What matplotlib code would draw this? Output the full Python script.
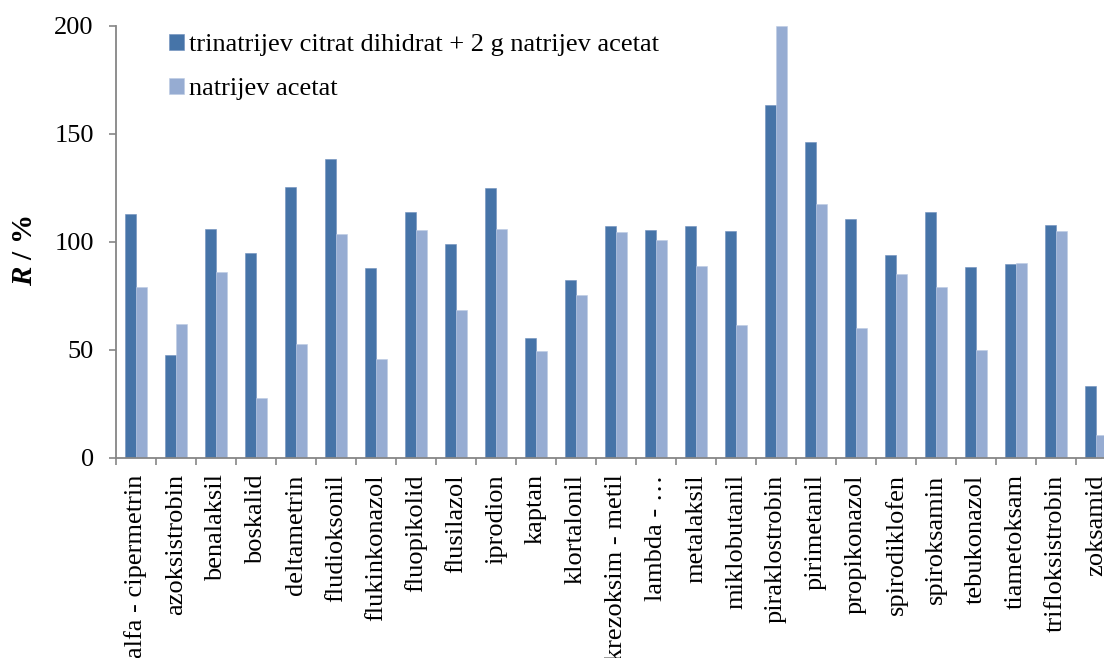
import matplotlib
matplotlib.use("Agg")
import matplotlib.pyplot as plt
import numpy as np

# Recovery values (R / %) for each pesticide under two buffering schemes
categories = [
    "alfa - cipermetrin", "azoksistrobin", "benalaksil", "boskalid", "deltametrin",
    "fludioksonil", "flukinkonazol", "fluopikolid", "flusilazol", "iprodion",
    "kaptan", "klortalonil", "krezoksim - metil", "lambda - \u2026", "metalaksil",
    "miklobutanil", "piraklostrobin", "pirimetanil", "propikonazol", "spirodiklofen",
    "spiroksamin", "tebukonazol", "tiametoksam", "trifloksistrobin", "zoksamid",
]
citrate_acetate = [
    113.0, 47.7, 105.8, 94.8, 125.6,
    138.4, 87.7, 114.0, 99.2, 124.8,
    55.4, 82.2, 107.2, 105.3, 107.3,
    105.2, 163.6, 146.4, 110.6, 93.9,
    113.7, 88.5, 89.9, 107.6, 33.4,
]
acetate_only = [
    79.1, 61.8, 86.2, 27.5, 52.5,
    103.5, 45.7, 105.3, 68.6, 106.1,
    49.3, 75.4, 104.4, 100.8, 88.6,
    61.5, 200.0, 117.7, 60.2, 85.3,
    79.2, 49.9, 90.2, 105.2, 10.4,
]
series_labels = [
    "trinatrijev citrat dihidrat + 2 g natrijev acetat",
    "natrijev acetat",
]
y_ticks = [0, 50, 100, 150, 200]

plt.rcParams["font.family"] = ["Liberation Serif", "DejaVu Serif"]
plt.rcParams["mathtext.fontset"] = "custom"
plt.rcParams["mathtext.rm"] = "Liberation Serif"
plt.rcParams["mathtext.bf"] = "Liberation Serif:bold"
plt.rcParams["mathtext.bfit"] = "Liberation Serif:italic:bold"

W, H = 1104, 658
fig = plt.figure(figsize=(W / 100, H / 100), dpi=100)
ax = fig.add_axes([116 / W, 1 - 457.7 / H, 1000 / W, 431.7 / H])

dark = "#4674A8"
light = "#96ACD2"
fs = 19

x = np.arange(len(categories))
bw = 1 / 3.5
ax.bar(x - bw / 2, citrate_acetate, width=bw, color=dark,
       edgecolor="#6E8FBC", linewidth=0.4, label=series_labels[0], zorder=2)
ax.bar(x + bw / 2, acetate_only, width=bw, color=light,
       edgecolor="#BCCBE4", linewidth=0.4, label=series_labels[1], zorder=2)

ax.set_xlim(-0.5, len(categories) - 0.5)
ax.set_ylim(0, 200)

ax.set_yticks(y_ticks)
ax.set_yticklabels([str(v) for v in y_ticks], fontsize=fs)
ax.set_xticks(x)
ax.set_xticklabels(categories, rotation=90, fontsize=fs, va="top", ha="center")
ax.set_xticks(np.arange(len(categories) + 1) - 0.5, minor=True)
ax.tick_params(axis="x", which="major", length=0, pad=12)
ax.tick_params(axis="x", which="minor", length=5, width=1.2, color="#868686")
ax.tick_params(axis="y", length=5, width=1.2, color="#868686", pad=11)

for side in ("top", "right"):
    ax.spines[side].set_visible(False)
for side in ("left", "bottom"):
    ax.spines[side].set_color("#868686")
    ax.spines[side].set_linewidth(1.3)

fig.text(25 / W, 1 - 251 / H, r"$\mathbfit{R}$ / %", rotation=90,
         ha="center", va="center", fontsize=21, fontweight="bold")

ax.legend(loc="upper left", bbox_to_anchor=(169 / W, 1 - 34 / H),
          bbox_transform=fig.transFigure, frameon=False, fontsize=fs,
          handlelength=0.55, handleheight=0.55, handletextpad=0.2,
          labelspacing=0.82, borderpad=0, borderaxespad=0)

fig.savefig("out.png", dpi=100)
